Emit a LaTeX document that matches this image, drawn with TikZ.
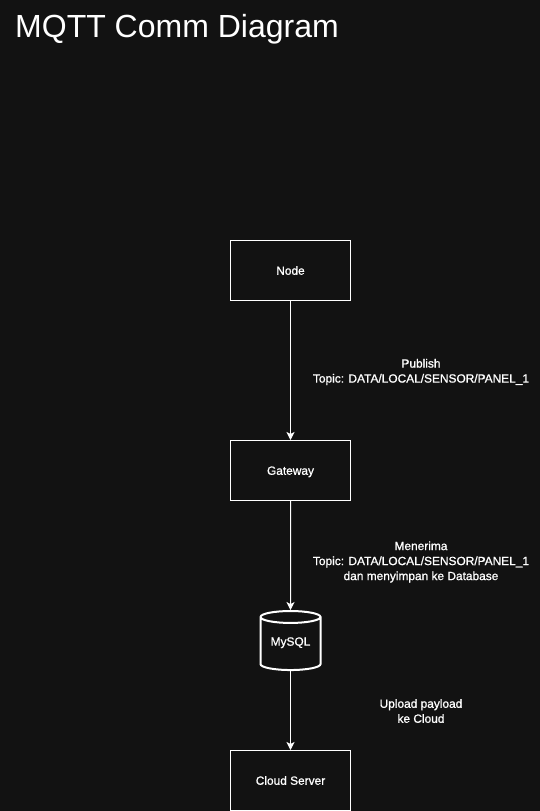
\documentclass[tikz,border=0pt]{standalone}
\usepackage{fontspec}
\setmainfont{Liberation Sans}
\newfontfamily\labelfont[FakeBold=1]{Liberation Sans}
\usetikzlibrary{arrows.meta,shapes.geometric}
\definecolor{pagebg}{HTML}{121212}
\tikzset{
    boxnode/.style={draw=white, line width=1pt, minimum width=120pt, minimum height=60pt, inner sep=0pt, text=white, text height=8.5pt, text depth=0pt, font=\labelfont\fontsize{11.9}{15}\selectfont},
    dbnode/.style={draw=white, line width=2pt, shape=cylinder, shape border rotate=90, shape aspect=0.3, minimum width=60pt, minimum height=59pt, inner sep=0pt, text=white, font=\labelfont\fontsize{11.9}{15}\selectfont},
    notetext/.style={text=white, align=center, inner sep=0pt, font=\labelfont\fontsize{11.9}{15}\selectfont},
    flow/.style={draw=white, line width=1pt, -{Stealth[length=8pt,width=8pt,inset=2pt]}}
}
\begin{document}
\begin{tikzpicture}[x=1pt, y=-1pt]
        \useasboundingbox [fill=pagebg] (0,0) rectangle (540,811);
        \node [text=white, anchor=west, inner sep=0pt, font=\fontsize{32}{38}\selectfont] (title) at (15,29) {MQTT Comm Diagram};
        \node [boxnode] (sensor) at (290.5,270.5) {Node};
        \node [boxnode] (gateway) at (290.5,470.5) {Gateway};
        \node [dbnode] (mysql) at (290.5,644) {\raisebox{5pt}{MySQL}};
        \node [boxnode] (cloud) at (290.5,780.5) {Cloud Server};
        \draw [flow] (sensor) -- (gateway);
        \draw [flow] (gateway) -- (mysql);
        \draw [flow] (mysql) -- (cloud);
        \node [notetext] (publish) at (421,372) {Publish\\Topic: DATA/LOCAL/SENSOR/PANEL\_1};
        \node [notetext] (receive) at (421,562) {Menerima\\Topic: DATA/LOCAL/SENSOR/PANEL\_1\\dan menyimpan ke Database};
        \node [notetext] (upload) at (421,711) {Upload payload\\ke Cloud};
    \end{tikzpicture}
\end{document}
